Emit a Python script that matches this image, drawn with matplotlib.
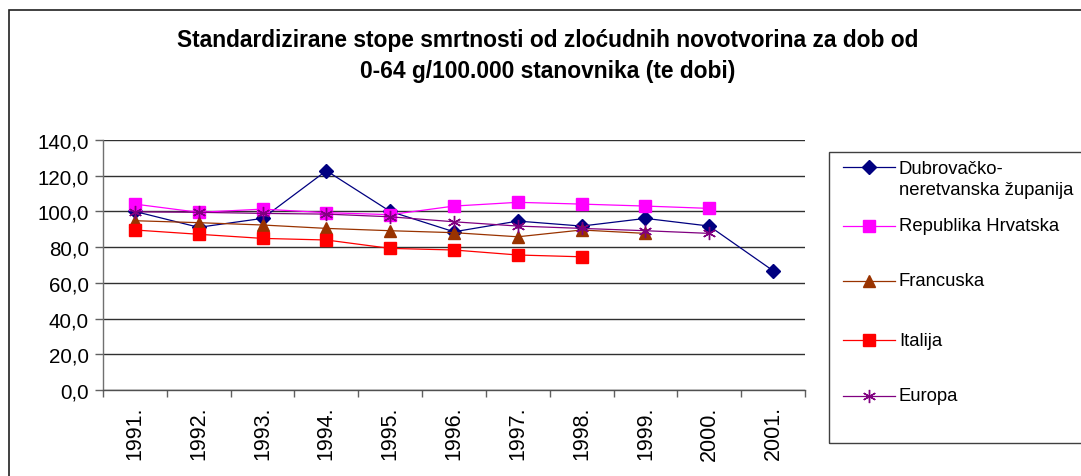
import numpy as np
import matplotlib
matplotlib.use("Agg")
import matplotlib.pyplot as plt
from matplotlib.patches import Rectangle
from matplotlib.lines import Line2D

plt.rcParams['font.family'] = ['Liberation Sans', 'DejaVu Sans']

# ---- data ----
years = ["1991.", "1992.", "1993.", "1994.", "1995.", "1996.", "1997.", "1998.", "1999.", "2000.", "2001."]
dubrovnik = [100.0, 91.1, 96.1, 122.8, 100.0, 88.6, 94.6, 91.8, 96.1, 91.8, 66.8]
hrvatska = [104.1, 99.5, 101.3, 99.3, 98.2, 103.0, 105.1, 104.1, 103.0, 101.7, np.nan]
francuska = [94.8, 93.7, 92.4, 90.5, 89.2, 88.1, 85.8, 89.6, 87.7, np.nan, np.nan]
italija = [89.6, 87.2, 84.9, 84.0, 79.3, 78.4, 75.6, 74.6, np.nan, np.nan, np.nan]
europa = [99.8, 99.5, 98.9, 98.5, 97.0, 94.2, 91.8, 90.5, 89.2, 87.7, np.nan]
labels = ["Dubrovačko-\nneretvanska županija", "Republika Hrvatska", "Francuska", "Italija", "Europa"]
title = "Standardizirane stope smrtnosti od zloćudnih novotvorina za dob od\n0-64 g/100.000 stanovnika (te dobi)"

series = [dubrovnik, hrvatska, francuska, italija, europa]
colors = ['#000080', '#FF00FF', '#993300', '#FF0000', '#800080']
markers = ['D', 's', '^', 's', (6, 2, 0)]
msizes = [7.5, 8.5, 8.5, 8.5, 9.5]

W, H = 1081, 477
fig = plt.figure(figsize=(W / 100, H / 100), dpi=100)
fig.patch.set_facecolor('white')

def fx(px):
    return px / W

def fy(py):
    return 1 - py / H

ax = fig.add_axes([fx(103), fy(391), fx(805) - fx(103), fy(141) - fy(391)])
x = np.arange(len(years))
lines = []
for vals, c, m, ms in zip(series, colors, markers, msizes):
    ln, = ax.plot(x, vals, color=c, lw=0.9, marker=m, markersize=ms,
                  markerfacecolor=c, markeredgecolor=c, markeredgewidth=1.0,
                  clip_on=False, zorder=3)
    lines.append(ln)

ax.set_xlim(-0.5, len(years) - 0.5)
ax.set_ylim(0, 140)
ax.set_yticks(np.arange(0, 141, 20))
ax.set_yticklabels([f"{v:.1f}".replace('.', ',') for v in np.arange(0, 141, 20)], fontsize=14.8)
ax.yaxis.grid(True, color='#303030', lw=1.0, zorder=0)
ax.set_axisbelow(True)
ax.tick_params(axis='y', length=6, width=1, color='#606060', pad=4, direction='out')

ax.set_xticks(x)
ax.set_xticklabels(years, rotation=90, fontsize=15.5)
ax.set_xticks(np.arange(-0.5, len(years), 1.0), minor=True)
ax.tick_params(axis='x', which='major', length=0, pad=11)
ax.tick_params(axis='x', which='minor', length=5, width=1, color='#606060', direction='out')

for s in ['top', 'right']:
    ax.spines[s].set_visible(False)
ax.spines['left'].set_color('#707070')
ax.spines['bottom'].set_color('#505050')
ax.spines['left'].set_linewidth(1.0)
ax.spines['bottom'].set_linewidth(1.0)

# title
fig.text(fx(548), fy(56), title, ha='center', va='center', fontsize=16.4,
         fontweight='bold', linespacing=1.42)

# outer chart border
fig.add_artist(Rectangle((fx(9), fy(H + 20)), 2, fy(11) - fy(H + 20),
                         transform=fig.transFigure, fill=False,
                         edgecolor='#202020', lw=1.2))

# legend box
fig.add_artist(Rectangle((fx(829), fy(444)), fx(1090) - fx(829), fy(153) - fy(444),
                         transform=fig.transFigure, fill=False,
                         edgecolor='#404040', lw=1.0))
leg_y = [168, 227, 282, 341, 397]
for ln, lab, yy in zip(lines, labels, leg_y):
    fig.add_artist(Line2D([fx(843), fx(895)], [fy(yy), fy(yy)],
                          transform=fig.transFigure, color=ln.get_color(), lw=0.9))
    fig.add_artist(Line2D([fx(869)], [fy(yy)], transform=fig.transFigure,
                          linestyle='none', marker=ln.get_marker(),
                          markersize=ln.get_markersize(),
                          markerfacecolor=ln.get_color(), markeredgecolor=ln.get_color()))
    if '\n' in lab:
        fig.text(fx(899), fy(yy - 7), lab, ha='left', va='top', fontsize=13.3,
                 linespacing=1.3)
    else:
        fig.text(fx(899), fy(yy), lab, ha='left', va='center', fontsize=13.3)

fig.savefig("out.png", dpi=100)
